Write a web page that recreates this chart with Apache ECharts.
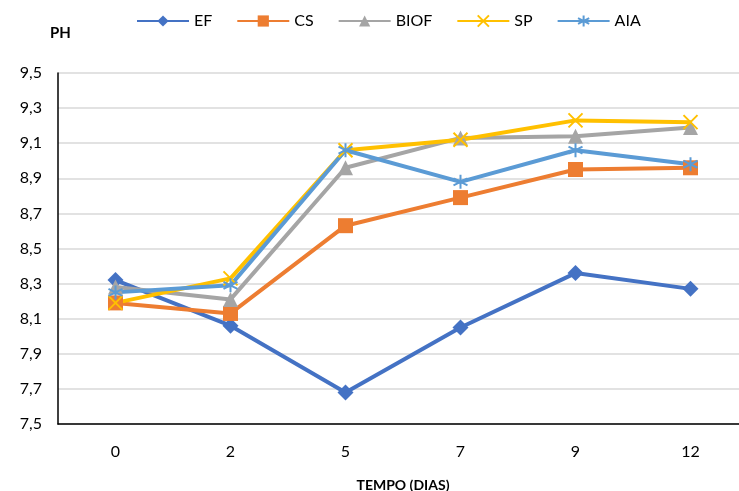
<!DOCTYPE html>
<html>
<head>
<meta charset="utf-8">
<script src="https://cdn.jsdelivr.net/npm/echarts@6/dist/echarts.min.js"></script>
<style>
  html, body { margin: 0; padding: 0; background: #fff; }
  #chart { width: 739px; height: 491px; }
</style>
</head>
<body>
<div id="chart"></div>
<script>
const days = ['0', '2', '5', '7', '9', '12'];
const ef = [8.32, 8.06, 7.68, 8.05, 8.36, 8.27];
const cs = [8.19, 8.13, 8.63, 8.79, 8.95, 8.96];
const biof = [8.28, 8.21, 8.96, 9.13, 9.14, 9.19];
const sp = [8.19, 8.33, 9.06, 9.12, 9.23, 9.22];
const aia = [8.25, 8.29, 9.06, 8.88, 9.06, 8.98];

const chart = echarts.init(document.getElementById('chart'));
const font = 'Lato, "Open Sans", sans-serif';

// Excel style cross and asterisk markers, drawn as strokes
const crossPath = 'path://M0,0L10,10M10,0L0,10';
const starPath = 'path://M5,0L5,10M0.7,2.5L9.3,7.5M0.7,7.5L9.3,2.5';

function makeSeries(name, data, color, symbol, size, stroke) {
  return {
    name: name,
    type: 'line',
    data: data,
    symbol: symbol,
    symbolSize: size,
    showAllSymbol: true,
    lineStyle: { width: 4, color: color },
    itemStyle: stroke
      ? { color: color, borderColor: color, borderWidth: 2 }
      : { color: color },
    emphasis: { disabled: true }
  };
}

chart.setOption({
  animation: false,
  textStyle: { fontFamily: font },
  title: {
    text: 'PH',
    left: 45,
    top: 21,
    textStyle: { fontSize: 15, fontWeight: 'bold', color: '#000', fontFamily: font }
  },
  legend: {
    top: 8,
    left: 131,
    itemWidth: 52,
    itemHeight: 14,
    itemGap: 24,
    textStyle: { fontSize: 16, color: '#000', fontFamily: font },
    data: ['EF', 'CS', 'BIOF', 'SP', 'AIA']
  },
  // the plot area runs past the right edge of the picture, as in the original
  grid: {
    left: 58, width: 690, top: 73, bottom: 67,
    containLabel: false,
    outerBoundsMode: 'none'
  },
  xAxis: {
    type: 'category',
    data: days,
    boundaryGap: true,
    name: 'TEMPO (DIAS)',
    nameLocation: 'middle',
    nameGap: 54,
    nameTextStyle: { fontSize: 14, fontWeight: 'bold', color: '#000', fontFamily: font },
    axisLine: { lineStyle: { color: '#000', width: 1.5 } },
    axisTick: { show: false },
    axisLabel: { fontSize: 16, color: '#000', margin: 20, fontFamily: font }
  },
  yAxis: {
    type: 'value',
    min: 7.5,
    max: 9.5,
    interval: 0.2,
    axisLine: { show: true, lineStyle: { color: '#000', width: 1.5 } },
    axisTick: { show: false },
    splitLine: { lineStyle: { color: '#d9d9d9', width: 1.5 } },
    axisLabel: {
      fontSize: 16,
      color: '#000',
      margin: 16,
      fontFamily: font,
      formatter: (v) => v.toFixed(1).replace('.', ',')
    }
  },
  series: [
    makeSeries('EF', ef, '#4472C4', 'diamond', 16, false),
    makeSeries('CS', cs, '#ED7D31', 'rect', 15, false),
    makeSeries('BIOF', biof, '#A5A5A5', 'triangle', 15, false),
    makeSeries('SP', sp, '#FFC000', crossPath, 14, true),
    makeSeries('AIA', aia, '#5B9BD5', starPath, 14, true)
  ]
});
</script>
</body>
</html>
